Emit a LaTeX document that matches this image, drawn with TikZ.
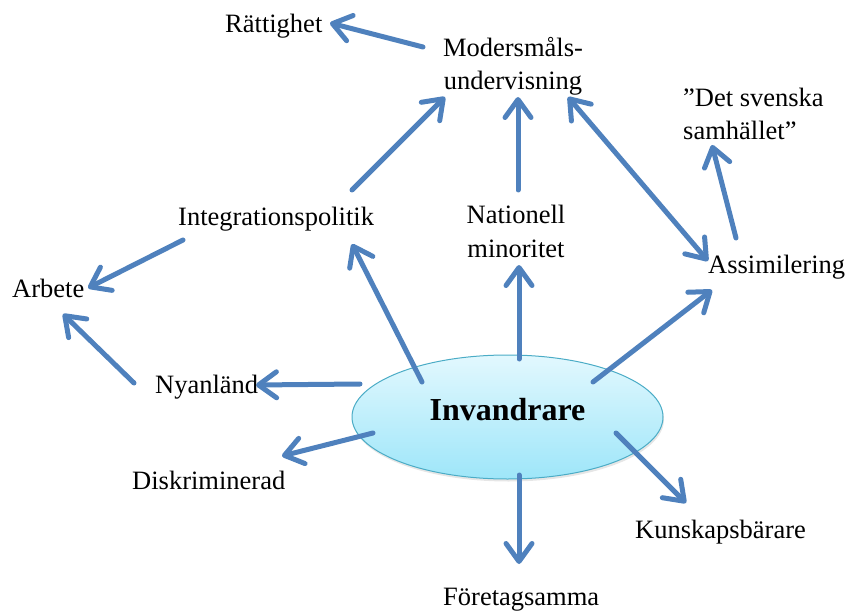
\documentclass[tikz,border=0pt]{standalone}
\usepackage{fontspec}
\setmainfont{Liberation Serif}
\usetikzlibrary{arrows.meta,shapes.geometric,shadows}
\definecolor{arrblue}{HTML}{4F81BD}
\definecolor{elltop}{HTML}{E2F8FE}
\definecolor{ellbot}{HTML}{9EE6F9}
\definecolor{ellborder}{HTML}{4BACC6}
\begin{document}
\begin{tikzpicture}[x=1bp,y=-1bp,
  lbl/.style={inner sep=0pt, font=\fontsize{26.5bp}{33bp}\selectfont, anchor=base west},
  conn/.style={draw=arrblue, line width=5bp, line cap=round, line join=round,
    -{Straight Barb[length=18bp,width=26bp,round]}},
  dconn/.style={conn, {Straight Barb[length=18bp,width=26bp,round]}-{Straight Barb[length=18bp,width=26bp,round]}},
]
\useasboundingbox (0,0) rectangle (845,612);

% central ellipse
\node[ellipse, minimum width=311bp, minimum height=124bp, inner sep=0pt,
  top color=elltop, bottom color=ellbot, draw=ellborder, line width=1bp,
  drop shadow={opacity=0.2, shadow xshift=1bp, shadow yshift=-2.5bp},
  font=\bfseries\fontsize{32bp}{36bp}\selectfont, text height=20bp, text depth=14bp]
  (inv) at (507.5,417) {Invandrare};

% labels (multi-line nodes: base anchor is on the last line)
\node[lbl] (ratt) at (225,33) {Rättighet};
\node[lbl, anchor=base, align=center] (mod) at (513,90) {Modersmåls-\\undervisning};
\node[lbl, anchor=base, align=center] (nat) at (516,257) {Nationell\\minoritet};
\node[lbl, align=left] (det) at (683,140) {”Det svenska\\samhället”};
\node[lbl] (integ) at (178,226) {Integrationspolitik};
\node[lbl] (arb) at (12,297) {Arbete};
\node[lbl] (ass) at (708,273) {Assimilering};
\node[lbl] (nya) at (155,393) {Nyanländ};
\node[lbl] (disk) at (132,489) {Diskriminerad};
\node[lbl] (fore) at (443,605) {Företagsamma};
\node[lbl] (kun) at (635,538) {Kunskapsbärare};

% connector end points
\coordinate (c1s) at (423,47);  \coordinate (c1e) at (330,23);
\coordinate (c2s) at (352,190); \coordinate (c2e) at (445,97);
\coordinate (c3s) at (518,190); \coordinate (c3e) at (518,97);
\coordinate (c4s) at (568,97);  \coordinate (c4e) at (708,261);
\coordinate (c5s) at (736,238); \coordinate (c5e) at (712,145);
\coordinate (c6s) at (183,240); \coordinate (c6e) at (88,288);
\coordinate (c7s) at (134,383); \coordinate (c7e) at (63,314);
\coordinate (c8s) at (360,384); \coordinate (c8e) at (256,385);
\coordinate (c9s) at (373,433); \coordinate (c9e) at (282,456);
\coordinate (c10s) at (422,382); \coordinate (c10e) at (352,244);
\coordinate (c11s) at (519,359); \coordinate (c11e) at (519,265);
\coordinate (c12s) at (593,382); \coordinate (c12e) at (712,290);
\coordinate (c13s) at (616,433); \coordinate (c13e) at (686,503);
\coordinate (c14s) at (519,475); \coordinate (c14e) at (519,564);

\draw[conn] (c1s) -- (c1e);
\draw[conn] (c2s) -- (c2e);
\draw[conn] (c3s) -- (c3e);
\draw[dconn] (c4s) -- (c4e);
\draw[conn] (c5s) -- (c5e);
\draw[conn] (c6s) -- (c6e);
\draw[conn] (c7s) -- (c7e);
\draw[conn] (c8s) -- (c8e);
\draw[conn] (c9s) -- (c9e);
\draw[conn] (c10s) -- (c10e);
\draw[conn] (c11s) -- (c11e);
\draw[conn] (c12s) -- (c12e);
\draw[conn] (c13s) -- (c13e);
\draw[conn] (c14s) -- (c14e);
\end{tikzpicture}
\end{document}
